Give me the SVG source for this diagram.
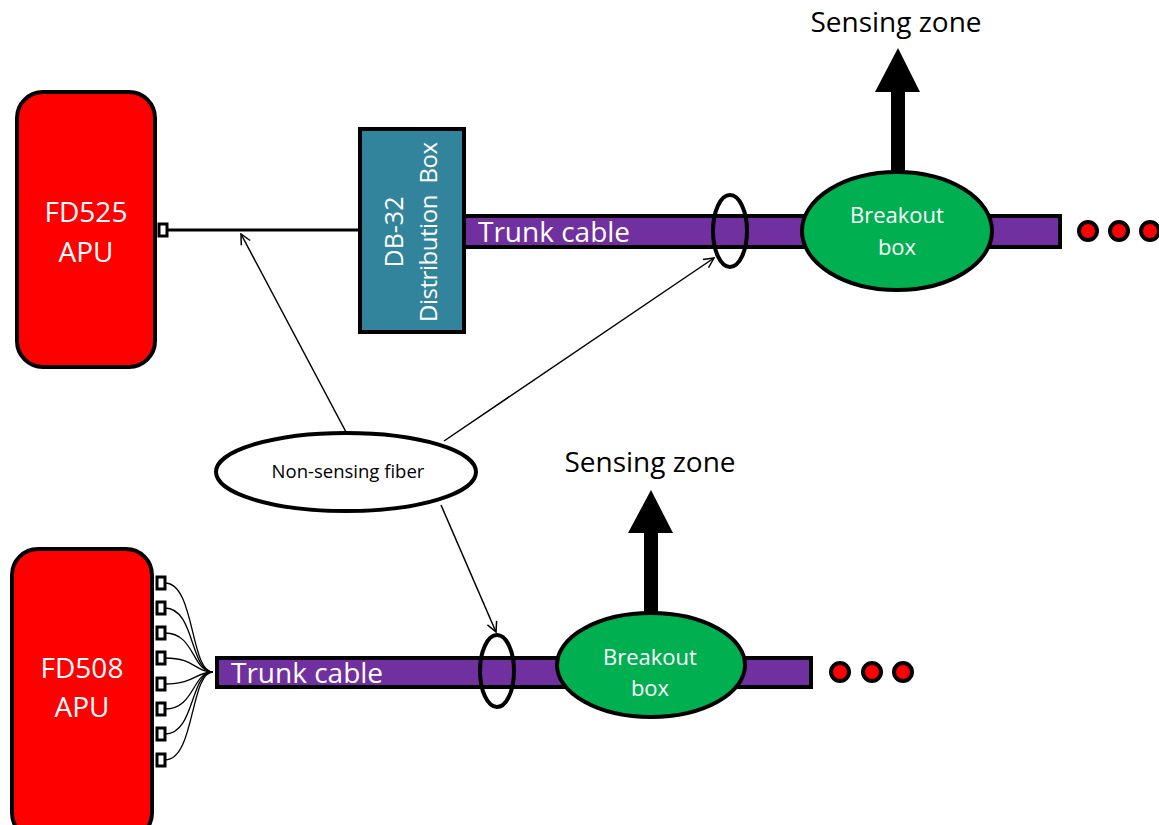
<svg xmlns="http://www.w3.org/2000/svg" width="1159" height="825" viewBox="0 0 1159 825">
<defs>
<style>
.apu{fill:#FF0000;stroke:#000;stroke-width:4}
.wt{fill:#fff;font-family:"Open Sans",sans-serif}
.bk{fill:#000;font-family:"Open Sans",sans-serif}
.cable{fill:#7030A0;stroke:#000;stroke-width:4}
.bo{fill:#00B050;stroke:#000;stroke-width:4}
.ring{fill:none;stroke:#000;stroke-width:4}
.port{fill:#fff;stroke:#000;stroke-width:3}
.dot{fill:#FF0000;stroke:#000;stroke-width:4}
.thin{fill:none;stroke:#000;stroke-width:1.5}
.fan{fill:none;stroke:#000;stroke-width:1.3}
</style>
<marker id="ah" markerWidth="12" markerHeight="12" viewBox="0 0 12 12" refX="11" refY="6" orient="auto" markerUnits="userSpaceOnUse">
<path d="M1,1 L11,6 L1,11" fill="none" stroke="#000" stroke-width="1.5"/>
</marker>
</defs>
<rect width="1159" height="825" fill="#fff"/>

<g id="connectors">
<line x1="168" y1="230" x2="362" y2="230" stroke="#000" stroke-width="3"/>
<path class="fan" d="M165,583 C195,583 190,672 213,672"/>
<path class="fan" d="M165,608 C195,608 190,672 213,672"/>
<path class="fan" d="M165,633 C195,633 192,672 213,672"/>
<path class="fan" d="M165,658 C195,658 195,672 213,672"/>
<path class="fan" d="M165,684 C195,684 195,672 213,672"/>
<path class="fan" d="M165,709 C195,709 192,672 213,672"/>
<path class="fan" d="M165,734 C195,734 190,672 213,672"/>
<path class="fan" d="M165,760 C195,760 190,672 213,672"/>
<line class="thin" x1="346" y1="432" x2="241" y2="234" marker-end="url(#ah)"/>
<line class="thin" x1="444" y1="441" x2="714" y2="258" marker-end="url(#ah)"/>
<line class="thin" x1="441" y1="505" x2="496" y2="632" marker-end="url(#ah)"/>
</g>

<g id="fd525">
<rect class="apu" x="17" y="92" width="138" height="275" rx="26"/>
<text class="wt" x="86" y="222" font-size="28" text-anchor="middle">FD525</text>
<text class="wt" x="86" y="262" font-size="28" text-anchor="middle">APU</text>
<rect class="port" x="159" y="224" width="8" height="12"/>
</g>

<g id="trunk-top">
<rect class="cable" x="463" y="216" width="597" height="31"/>
<text class="wt" x="478" y="242" font-size="28">Trunk cable</text>
</g>

<g id="db32">
<rect x="360" y="129" width="104" height="203" fill="#31849B" stroke="#000" stroke-width="4"/>
<text class="wt" transform="translate(403,232) rotate(-90)" font-size="25" text-anchor="middle">DB-32</text>
<text class="wt" transform="translate(437,232) rotate(-90)" font-size="24" text-anchor="middle" xml:space="preserve" textLength="180" lengthAdjust="spacing">Distribution  Box</text>
</g>

<g id="ring-top">
<ellipse class="ring" cx="730" cy="231" rx="17" ry="36"/>
</g>

<g id="sensing-top">
<rect x="891" y="88" width="14" height="86" fill="#000"/>
<polygon points="875,92 898,48 920,92" fill="#000"/>
<text class="bk" x="896" y="32" font-size="28" text-anchor="middle">Sensing zone</text>
</g>

<g id="breakout-top">
<ellipse class="bo" cx="897" cy="231" rx="95" ry="59"/>
<text class="wt" x="897" y="223" font-size="22" text-anchor="middle">Breakout</text>
<text class="wt" x="897" y="255" font-size="22" text-anchor="middle">box</text>
</g>

<g id="dots-top">
<circle class="dot" cx="1088" cy="231" r="9"/>
<circle class="dot" cx="1119" cy="231" r="9"/>
<circle class="dot" cx="1150" cy="231" r="9"/>
</g>

<g id="nonsensing">
<ellipse cx="346" cy="472" rx="130" ry="39" fill="#fff" stroke="#000" stroke-width="4"/>
<text class="bk" x="348" y="478" font-size="18.5" text-anchor="middle">Non-sensing fiber</text>
</g>

<g id="fd508">
<rect class="apu" x="12" y="549" width="140" height="290" rx="26"/>
<text class="wt" x="82" y="678" font-size="28" text-anchor="middle">FD508</text>
<text class="wt" x="82" y="717" font-size="28" text-anchor="middle">APU</text>
<rect class="port" x="157" y="577" width="8" height="12"/>
<rect class="port" x="157" y="602" width="8" height="12"/>
<rect class="port" x="157" y="627" width="8" height="12"/>
<rect class="port" x="157" y="652" width="8" height="12"/>
<rect class="port" x="157" y="678" width="8" height="12"/>
<rect class="port" x="157" y="703" width="8" height="12"/>
<rect class="port" x="157" y="728" width="8" height="12"/>
<rect class="port" x="157" y="754" width="8" height="12"/>
</g>

<g id="trunk-bottom">
<rect class="cable" x="217" y="658" width="594" height="29"/>
<text class="wt" x="231" y="683" font-size="28">Trunk cable</text>
</g>

<g id="ring-bottom">
<ellipse class="ring" cx="497" cy="671" rx="17" ry="36"/>
</g>

<g id="sensing-bottom">
<rect x="644" y="529" width="14" height="86" fill="#000"/>
<polygon points="628,533 651,490 673,533" fill="#000"/>
<text class="bk" x="650" y="472" font-size="28" text-anchor="middle">Sensing zone</text>
</g>

<g id="breakout-bottom">
<ellipse class="bo" cx="651" cy="665" rx="94" ry="52"/>
<text class="wt" x="650" y="665" font-size="22" text-anchor="middle">Breakout</text>
<text class="wt" x="650" y="696" font-size="22" text-anchor="middle">box</text>
</g>

<g id="dots-bottom">
<circle class="dot" cx="840" cy="672" r="9"/>
<circle class="dot" cx="872" cy="672" r="9"/>
<circle class="dot" cx="903" cy="672" r="9"/>
</g>
</svg>
